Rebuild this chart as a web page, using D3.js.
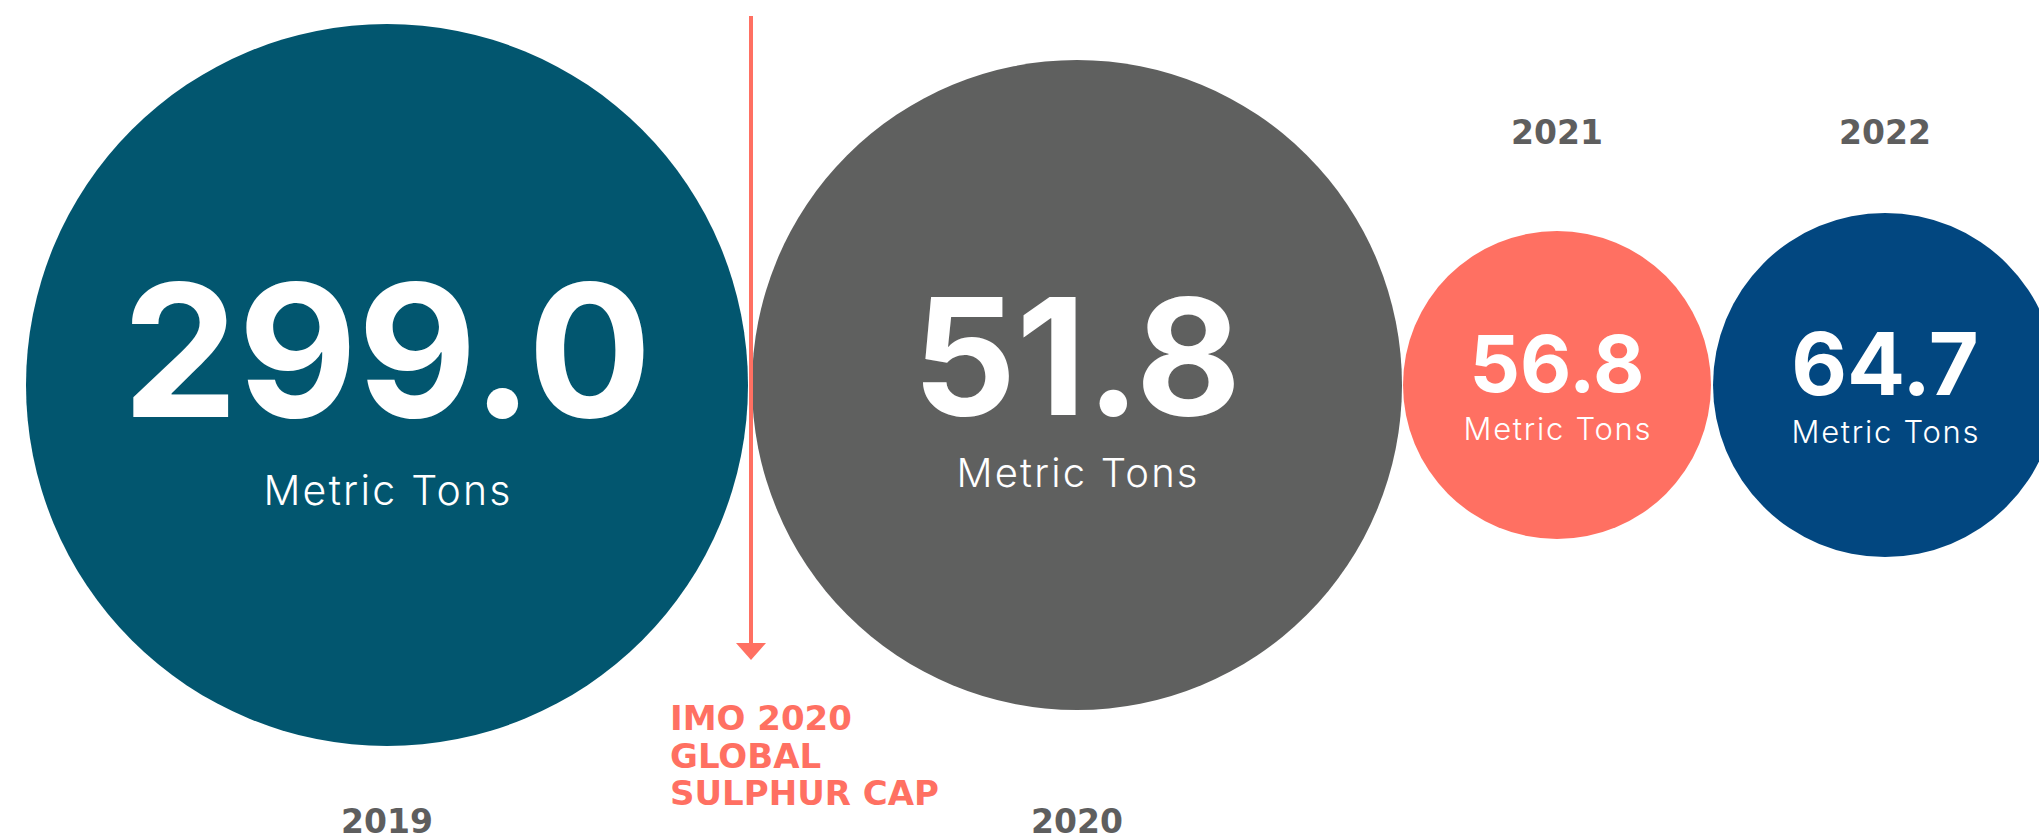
<!DOCTYPE html>
<html>
<head>
<meta charset="utf-8">
<script src="https://cdn.jsdelivr.net/npm/d3@7"></script>
<style>
  html, body { margin: 0; padding: 0; background: #ffffff; }
  svg { display: block; }
</style>
</head>
<body>
<svg id="chart" width="2039" height="840"></svg>
<script>
// Sulphur volumes by year (metric tons)
const years  = ["2019", "2020", "2021", "2022"];
const values = [299.0, 51.8, 56.8, 64.7];
const unitLabel = "Metric Tons";
const eventLabel = ["IMO 2020", "GLOBAL", "SULPHUR CAP"];

// Presentation
const fills = ["#02566f", "#5f605f", "#ff7062", "#024780"];
const W = 2039, H = 840, cy = 385;
const radius = d3.scaleOrdinal(years, [361, 325, 154, 172]);
const gap = d3.scaleOrdinal(years, [0, 4, 1, 2]);
const valueSize = d3.scaleOrdinal(years, [184, 162, 79, 86]);
const valueDy = d3.scaleOrdinal(years, [32, 30, 7, 10]);
const unitSize = d3.scaleOrdinal(years, [41, 40, 31, 31]);
const unitDy = d3.scaleOrdinal(years, [120, 102, 55, 58]);
const yearOnTop = d3.scaleOrdinal(years, [false, false, true, true]);
const color = d3.scaleOrdinal(years, fills);

// Chain the circles left to right, each tangent to the previous one
const rows = [];
let edge = 26;
years.forEach((y, i) => {
  const r = radius(y);
  const cx = edge + gap(y) + r;
  rows.push({ year: y, value: values[i], r, cx });
  edge = cx + r;
});

const svg = d3.select("#chart");
const fmt = d3.format(".1f");
const numFont = "Inter, 'DejaVu Sans', sans-serif";
const labelFont = "'DejaVu Sans', Inter, sans-serif";

const g = svg.selectAll("g.bubble").data(rows).join("g")
  .attr("class", "bubble")
  .attr("transform", d => `translate(${d.cx},${cy})`);

g.append("circle")
  .attr("r", d => d.r)
  .attr("fill", d => color(d.year));

g.append("text")
  .attr("text-anchor", "middle")
  .attr("y", d => valueDy(d.year))
  .attr("fill", "#ffffff")
  .style("font-family", numFont)
  .style("font-weight", 700)
  .style("font-size", d => valueSize(d.year) + "px")
  .text(d => fmt(d.value));

g.append("text")
  .attr("text-anchor", "middle")
  .attr("x", d => unitSize(d.year) * 0.027)
  .attr("y", d => unitDy(d.year))
  .attr("fill", "#ffffff")
  .style("font-family", numFont)
  .style("font-weight", 300)
  .style("font-size", d => unitSize(d.year) + "px")
  .style("letter-spacing", "0.055em")
  .text(unitLabel);

// Year labels: below the large bubbles, above the small ones
svg.selectAll("text.year").data(rows).join("text")
  .attr("class", "year")
  .attr("x", d => d.cx)
  .attr("y", d => yearOnTop(d.year) ? 144 : 833)
  .attr("text-anchor", "middle")
  .attr("fill", "#5e5e5e")
  .style("font-family", labelFont)
  .style("font-weight", 700)
  .style("font-size", "33px")
  .text(d => d.year);

// Regulation marker between 2019 and 2020
const markX = 751, markTop = 16, markTip = 660;
svg.append("line")
  .attr("x1", markX).attr("x2", markX)
  .attr("y1", markTop).attr("y2", markTip - 10)
  .attr("stroke", "#ff7062")
  .attr("stroke-width", 4);
svg.append("path")
  .attr("d", d3.line()([[markX - 15, markTip - 17], [markX + 15, markTip - 17], [markX, markTip]]) + "Z")
  .attr("fill", "#ff7062");

svg.append("text")
  .attr("x", 670)
  .attr("fill", "#ff7062")
  .style("font-family", labelFont)
  .style("font-weight", 700)
  .style("font-size", "34px")
  .selectAll("tspan").data(eventLabel).join("tspan")
  .attr("x", 670)
  .attr("y", (d, i) => 730 + i * 37.5)
  .text(d => d);
</script>
</body>
</html>
